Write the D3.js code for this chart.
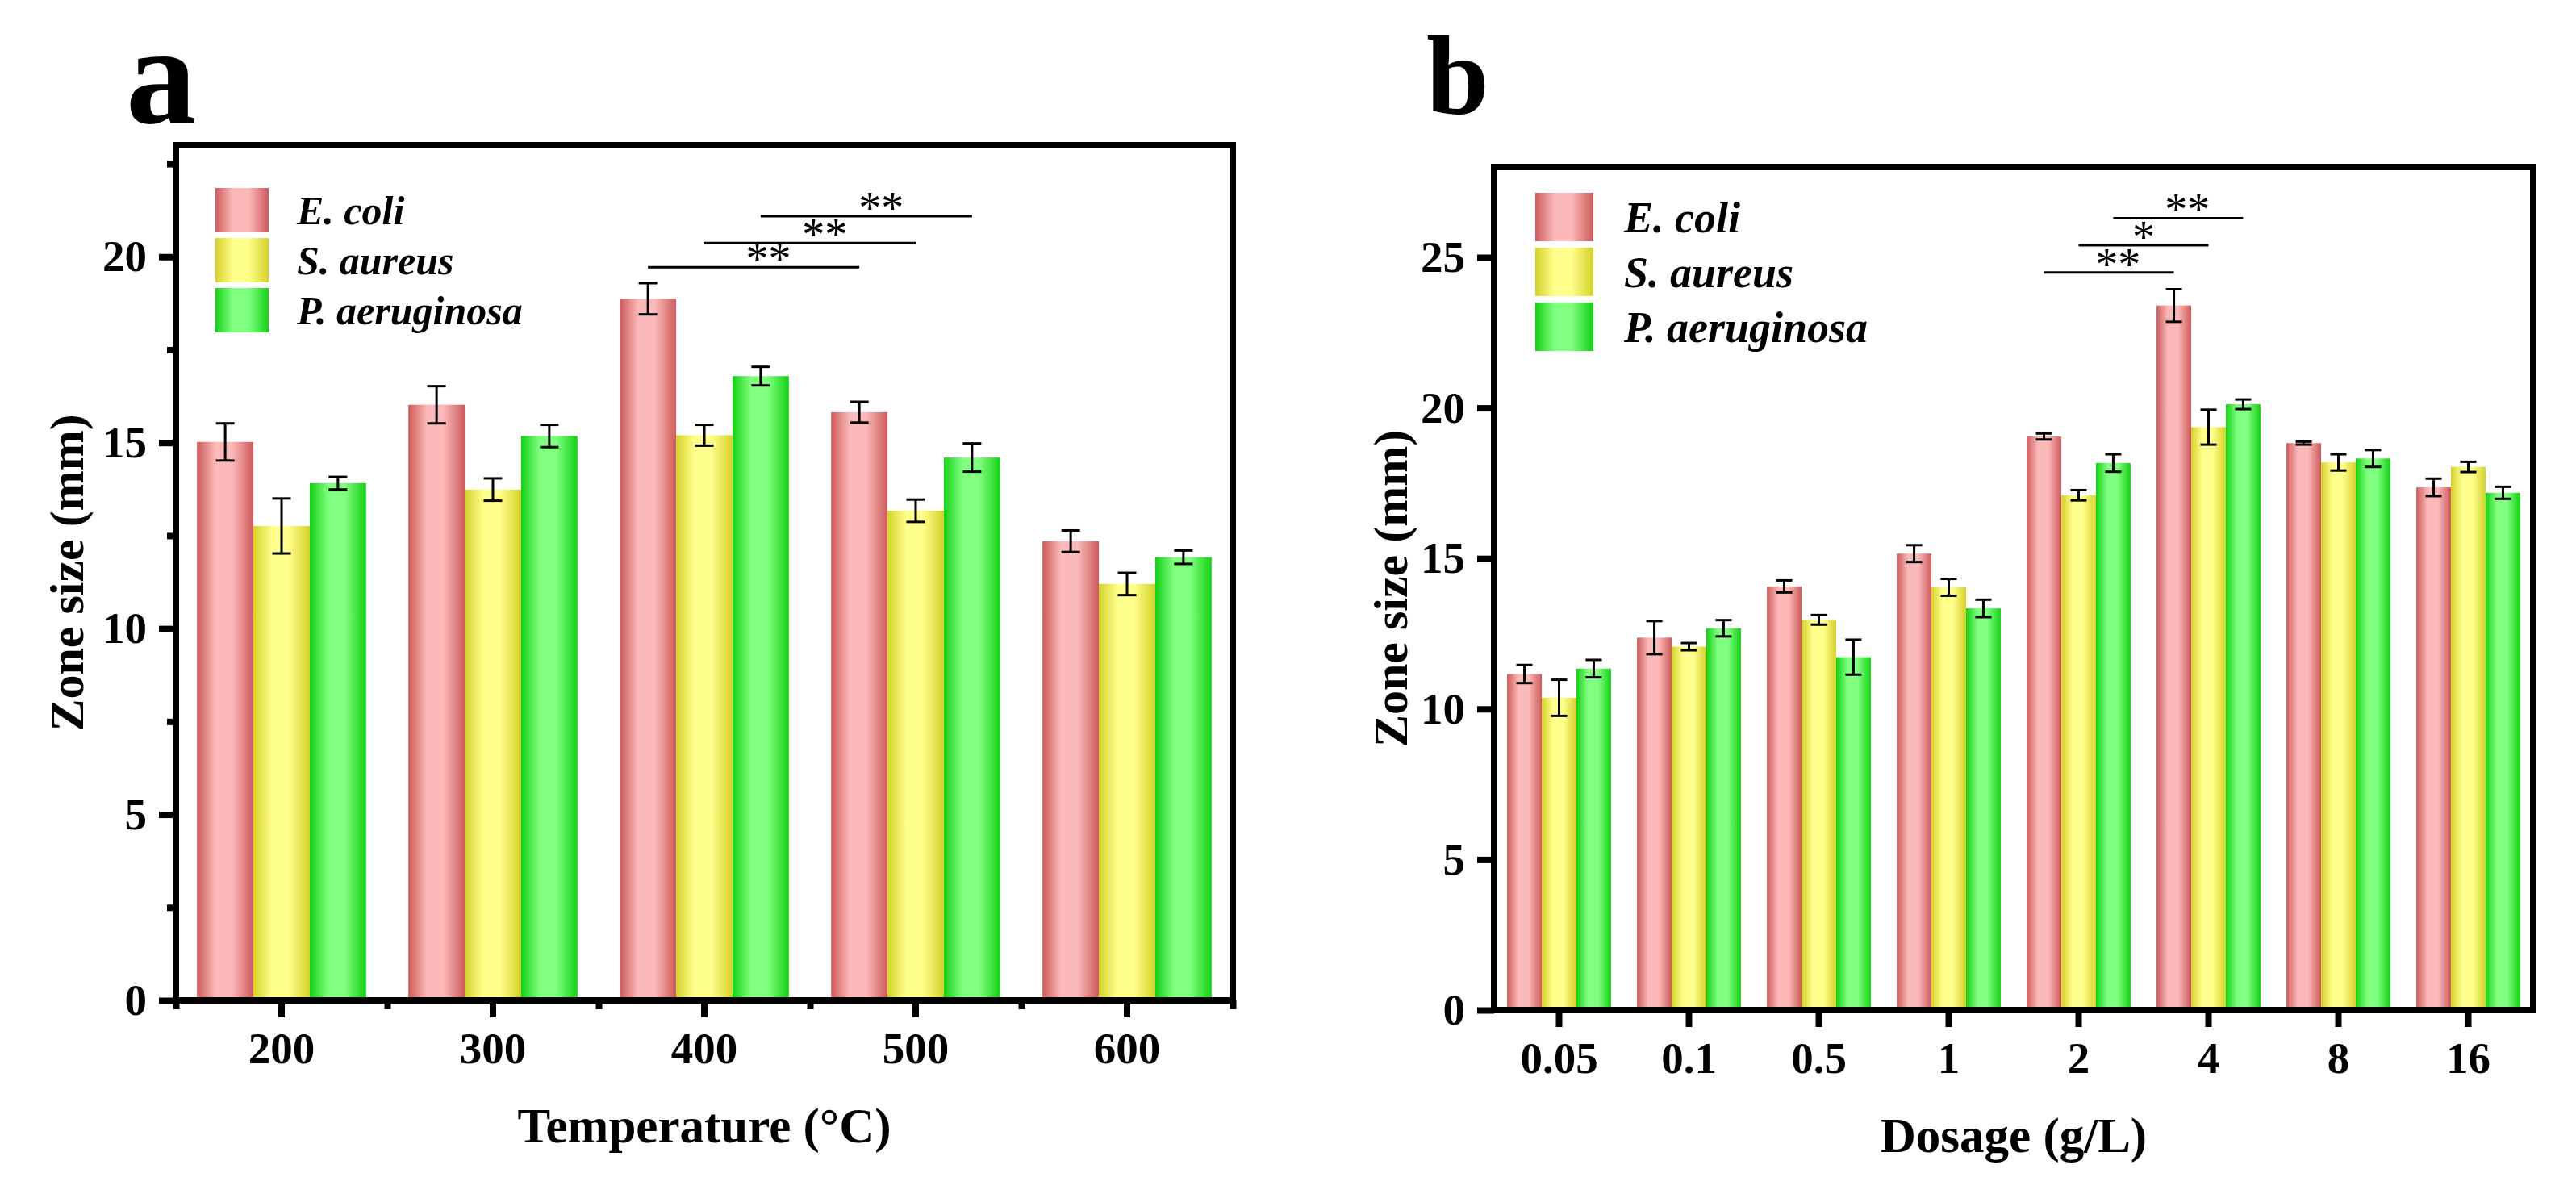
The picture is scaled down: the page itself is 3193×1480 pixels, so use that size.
<!DOCTYPE html>
<html>
<head>
<meta charset="utf-8">
<script src="https://cdn.jsdelivr.net/npm/d3@7"></script>
<style>
  body { margin: 0; background: #fff; }
  svg { display: block; }
  text { font-family: "Liberation Serif", "Times New Roman", serif; font-weight: bold; fill: #000; }
</style>
</head>
<body>
<div class="chart"></div>
<script>
// ---- data ----
const seriesNames = ["E. coli", "S. aureus", "P. aeruginosa"];

// panel a : temperature
const tempCats = ["200", "300", "400", "500", "600"];
const tempEcoli = [15.02, 16.02, 18.87, 15.82, 12.35];
const tempSaureus = [12.76, 13.74, 15.20, 13.17, 11.20];
const tempPaer = [13.91, 15.18, 16.79, 14.60, 11.92];
const tempEcoliErr = [0.50, 0.50, 0.42, 0.28, 0.29];
const tempSaureusErr = [0.74, 0.30, 0.28, 0.30, 0.30];
const tempPaerErr = [0.17, 0.30, 0.25, 0.38, 0.18];
const tempTicks = [0, 5, 10, 15, 20];
const tempMinorTicks = [2.5, 7.5, 12.5, 17.5, 22.5];
const tempSig = [
  {from: "400", to: "500", series: 0, y: 19.72, label: "**"},
  {from: "400", to: "500", series: 1, y: 20.37, label: "**"},
  {from: "400", to: "500", series: 2, y: 21.09, label: "**"}
];

// panel b : dosage
const doseCats = ["0.05", "0.1", "0.5", "1", "2", "4", "8", "16"];
const doseEcoli = [11.16, 12.37, 14.07, 15.16, 19.05, 23.40, 18.83, 17.36];
const doseSaureus = [10.37, 12.07, 12.96, 14.04, 17.10, 19.36, 18.19, 18.04];
const dosePaer = [11.34, 12.68, 11.72, 13.34, 18.17, 20.12, 18.32, 17.18];
const doseEcoliErr = [0.30, 0.55, 0.20, 0.28, 0.10, 0.54, 0.05, 0.29];
const doseSaureusErr = [0.60, 0.12, 0.16, 0.28, 0.17, 0.58, 0.27, 0.17];
const dosePaerErr = [0.29, 0.27, 0.58, 0.29, 0.29, 0.16, 0.28, 0.20];
const doseTicks = [0, 5, 10, 15, 20, 25];
const doseSig = [
  {from: "2", to: "4", series: 0, y: 24.5, label: "**"},
  {from: "2", to: "4", series: 1, y: 25.4, label: "*"},
  {from: "2", to: "4", series: 2, y: 26.3, label: "**"}
];

// gradient colours (edge, centre)
const barColors = [["#cd5a5a", "#fcb9b9"], ["#d5d12a", "#ffff8c"], ["#14d014", "#80ff80"]];

var W = 3193, H = 1480;
var svg = d3.select("div.chart")
            .append("svg")
            .attr("width", W)
            .attr("height", H);

//gradients for the bars
var defs = svg.append("defs");
barColors.forEach(function(c, i){
  var g = defs.append("linearGradient")
              .attr("id", "grad" + i)
              .attr("x1", "0%").attr("x2", "100%")
              .attr("y1", "0%").attr("y2", "0%");
  g.append("stop").attr("offset", "0%").attr("stop-color", c[0]);
  g.append("stop").attr("offset", "33%").attr("stop-color", c[1]);
  g.append("stop").attr("offset", "62%").attr("stop-color", c[1]);
  g.append("stop").attr("offset", "100%").attr("stop-color", c[0]);
});

function drawPanel(p){
  var g = svg.append("g");

  var x = d3.scaleBand()
            .domain(p.cats)
            .range([p.left, p.right])
            .paddingInner(0.2)
            .paddingOuter(0.1);
  var xs = d3.scaleBand()
             .domain(d3.range(seriesNames.length))
             .range([0, x.bandwidth()]);
  var y = d3.scaleLinear()
            .domain([0, p.ymax])
            .range([p.bottom, p.top]);

  //bars
  p.values.forEach(function(vals, s){
    g.selectAll(".bar" + s)
      .data(vals)
      .enter()
      .append("rect")
        .attr("x", function(d, i){ return x(p.cats[i]) + xs(s); })
        .attr("y", function(d){ return y(d); })
        .attr("width", xs.bandwidth())
        .attr("height", function(d){ return y(0) - y(d); })
        .attr("fill", "url(#grad" + s + ")");
  });

  //error bars
  p.values.forEach(function(vals, s){
    var eg = g.append("g").attr("stroke", "#000").attr("stroke-width", 3);
    vals.forEach(function(v, i){
      var cx = x(p.cats[i]) + xs(s) + xs.bandwidth() / 2;
      var e = p.errors[s][i];
      eg.append("line")
        .attr("x1", cx).attr("x2", cx)
        .attr("y1", y(v + e)).attr("y2", y(v - e));
      [v + e, v - e].forEach(function(t){
        eg.append("line")
          .attr("x1", cx - p.cap / 2).attr("x2", cx + p.cap / 2)
          .attr("y1", y(t)).attr("y2", y(t));
      });
    });
  });

  //significance brackets
  p.sig.forEach(function(b){
    var x1 = x(b.from) + xs(b.series) + xs.bandwidth() / 2;
    var x2 = x(b.to) + xs(b.series) + xs.bandwidth() / 2;
    g.append("line")
      .attr("x1", x1).attr("x2", x2)
      .attr("y1", y(b.y)).attr("y2", y(b.y))
      .attr("stroke", "#000").attr("stroke-width", 3);
    var f = b.label.length > 1 ? 0.57 : 0.5;
    g.append("text")
      .attr("x", x1 + (x2 - x1) * f)
      .attr("y", y(b.y) + 9)
      .attr("text-anchor", "middle")
      .style("font-weight", "normal")
      .style("font-size", "56px")
      .text(b.label);
  });

  //y axis
  var yAxis = g.append("g")
               .attr("transform", "translate(" + p.left + ",0)")
               .call(d3.axisLeft(y).tickValues(p.ticks).tickSize(21).tickPadding(15));
  if(p.minor){
    g.append("g")
     .attr("transform", "translate(" + p.left + ",0)")
     .call(d3.axisLeft(y).tickValues(p.minor).tickSize(11).tickFormat(""));
  }

  //x axis
  g.append("g")
   .attr("transform", "translate(0," + p.bottom + ")")
   .call(d3.axisBottom(x).tickSize(21).tickPadding(18).tickSizeOuter(0));
  if(p.minorX){
    var xm = d3.scaleLinear().domain([0, p.cats.length]).range([p.left, p.right]);
    g.append("g")
     .attr("transform", "translate(0," + p.bottom + ")")
     .call(d3.axisBottom(xm).tickValues(d3.range(p.cats.length + 1)).tickSize(11).tickFormat(""));
  }

  g.selectAll(".domain").remove();
  g.selectAll(".tick line").attr("stroke-width", 8);
  g.selectAll(".tick text")
   .style("font-size", "55px")
   .style("font-family", "'Liberation Serif', serif")
   .style("font-weight", "bold");

  //frame
  g.append("rect")
   .attr("x", p.left).attr("y", p.top)
   .attr("width", p.right - p.left)
   .attr("height", p.bottom - p.top)
   .attr("fill", "none")
   .attr("stroke", "#000")
   .attr("stroke-width", 8);

  //axis titles
  g.append("text")
   .attr("transform", "translate(" + p.yTitleX + "," + (p.top + p.bottom) / 2 + ") rotate(-90)")
   .attr("text-anchor", "middle")
   .style("font-size", "60px")
   .text("Zone size (mm)");
  g.append("text")
   .attr("x", (p.left + p.right) / 2)
   .attr("y", p.bottom + 176)
   .attr("text-anchor", "middle")
   .style("font-size", "61px")
   .text(p.xTitle);

  //panel letter
  g.append("text")
   .attr("x", p.letterX).attr("y", p.letterY)
   .style("font-size", p.letterSize + "px")
   .text(p.letter);

  //legend
  var lg = g.append("g");
  seriesNames.forEach(function(name, s){
    var ty = p.legTop + s * p.legStep;
    lg.append("rect")
      .attr("x", p.legX).attr("y", ty)
      .attr("width", p.legW).attr("height", p.legH)
      .attr("fill", "url(#grad" + s + ")");
    lg.append("text")
      .attr("x", p.legTextX)
      .attr("y", ty + p.legH / 2 + p.legFont * 0.35)
      .style("font-size", p.legFont + "px")
      .style("font-style", "italic")
      .text(name);
  });
}

drawPanel({
  cats: tempCats,
  values: [tempEcoli, tempSaureus, tempPaer],
  errors: [tempEcoliErr, tempSaureusErr, tempPaerErr],
  ticks: tempTicks, minor: tempMinorTicks, minorX: true,
  sig: tempSig, ymax: 23,
  left: 218, right: 1528, top: 180, bottom: 1240,
  cap: 23, xTitle: "Temperature (\u00B0C)", yTitleX: 103,
  letter: "a", letterX: 156, letterY: 152, letterSize: 175,
  legX: 267, legTop: 233, legStep: 62, legW: 66, legH: 55, legTextX: 368, legFont: 50
});

drawPanel({
  cats: doseCats,
  values: [doseEcoli, doseSaureus, dosePaer],
  errors: [doseEcoliErr, doseSaureusErr, dosePaerErr],
  ticks: doseTicks, minor: null, minorX: false,
  sig: doseSig, ymax: 28,
  left: 1852, right: 3140, top: 207, bottom: 1252,
  cap: 20, xTitle: "Dosage (g/L)", yTitleX: 1744,
  letter: "b", letterX: 1768, letterY: 141, letterSize: 140,
  legX: 1903, legTop: 239, legStep: 68, legW: 72, legH: 60, legTextX: 2013, legFont: 54
});
</script>
</body>
</html>
